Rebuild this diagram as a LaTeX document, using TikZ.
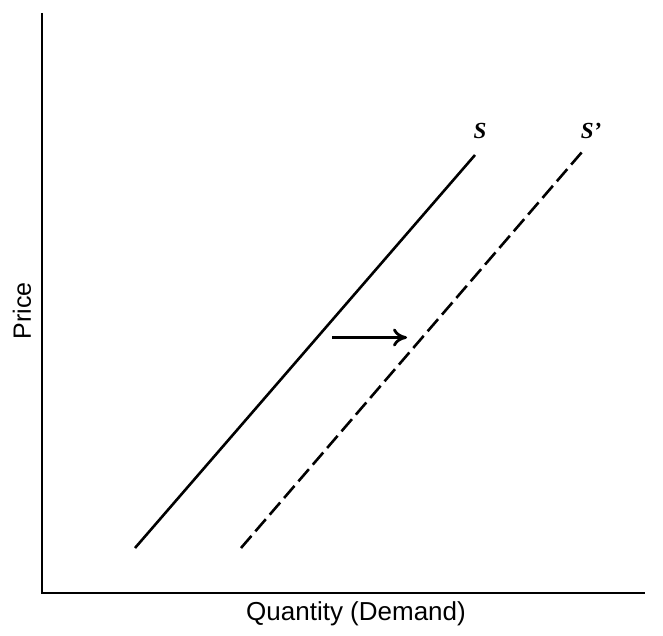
\documentclass[tikz,border=0pt]{standalone}
\usepackage{fontspec}
\setmainfont{Liberation Serif}
\setsansfont{Liberation Sans}
\usetikzlibrary{arrows.meta}

\begin{document}
\begin{tikzpicture}[x=1pt, y=1pt, >={To[length=14pt, width=18pt]}, line width=2.6pt]
                \useasboundingbox (0, 0) rectangle (663, 635);
                \coordinate (0) at (42, 42);
                \coordinate (ytop) at (42, 622);
                \coordinate (xend) at (645, 42);
                \coordinate (s0) at (135, 87);
                \coordinate (s1) at (475, 480);
                \coordinate (t0) at (241, 87);
                \coordinate (t1) at (582, 483);
                \coordinate (a0) at (332, 297.5);
                \coordinate (a1) at (407, 297.5);
                \node[font=\bfseries\itshape\fontsize{23}{27}\selectfont] (S) at (480, 504) {S};
                \node[font=\bfseries\itshape\fontsize{23}{27}\selectfont] (S') at (591, 504) {S'};
                \node[font=\sffamily\fontsize{25}{29}\selectfont, rotate=90] (price) at (22, 324) {Price};
                \node[font=\sffamily\fontsize{26}{30}\selectfont] (qty) at (356, 21) {Quantity (Demand)};
                \draw (ytop) -- (0) -- (xend);
                \path (s0) edge (s1)
                      (t0) edge[dash pattern=on 16pt off 6pt] (t1)
                      (a0) edge[->, line width=2.8pt] (a1);
            \end{tikzpicture}
\end{document}
